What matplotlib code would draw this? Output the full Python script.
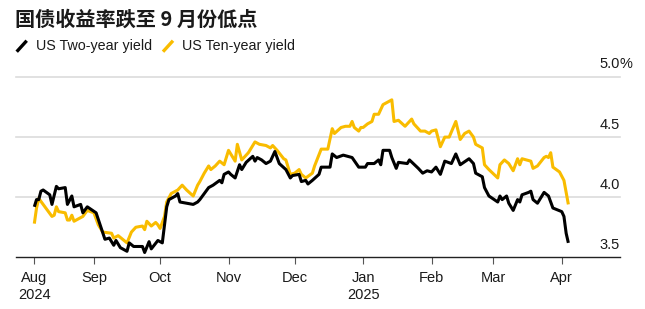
import matplotlib
matplotlib.use("Agg")
import matplotlib.pyplot as plt
import matplotlib.transforms as mtransforms
from matplotlib.lines import Line2D
import pandas as pd

# ── data ──
TITLE = "国债收益率跌至 9 月份低点"
SERIES_LABELS = ["US Two-year yield", "US Ten-year yield"]

two_dates = [
    "2024-08-05", "2024-08-06", "2024-08-07", "2024-08-08", "2024-08-09", "2024-08-12",
    "2024-08-13", "2024-08-15", "2024-08-16", "2024-08-19", "2024-08-20", "2024-08-22",
    "2024-08-23", "2024-08-26", "2024-08-27", "2024-08-29", "2024-09-02", "2024-09-04",
    "2024-09-06", "2024-09-08", "2024-09-10", "2024-09-11", "2024-09-13", "2024-09-16",
    "2024-09-17", "2024-09-19", "2024-09-23", "2024-09-24", "2024-09-26", "2024-09-27",
    "2024-09-30", "2024-10-02", "2024-10-04", "2024-10-05", "2024-10-08", "2024-10-09",
    "2024-10-10", "2024-10-16", "2024-10-18", "2024-10-19", "2024-10-21", "2024-10-23",
    "2024-10-25", "2024-10-28", "2024-10-29", "2024-10-30", "2024-11-01", "2024-11-02",
    "2024-11-04", "2024-11-06", "2024-11-07", "2024-11-09", "2024-11-12", "2024-11-13",
    "2024-11-14", "2024-11-16", "2024-11-18", "2024-11-20", "2024-11-22", "2024-11-24",
    "2024-11-27", "2024-11-29", "2024-11-30", "2024-12-03", "2024-12-04", "2024-12-06",
    "2024-12-07", "2024-12-09", "2024-12-12", "2024-12-13", "2024-12-17", "2024-12-18",
    "2024-12-20", "2024-12-23", "2024-12-27", "2024-12-30", "2025-01-02", "2025-01-03",
    "2025-01-06", "2025-01-08", "2025-01-09", "2025-01-10", "2025-01-13", "2025-01-14",
    "2025-01-16", "2025-01-17", "2025-01-21", "2025-01-22", "2025-01-26", "2025-01-28",
    "2025-01-30", "2025-02-01", "2025-02-03", "2025-02-05", "2025-02-07", "2025-02-10",
    "2025-02-12", "2025-02-14", "2025-02-18", "2025-02-20", "2025-02-21", "2025-02-24",
    "2025-02-25", "2025-02-27", "2025-03-03", "2025-03-04", "2025-03-05", "2025-03-07",
    "2025-03-08", "2025-03-10", "2025-03-12", "2025-03-13", "2025-03-14", "2025-03-17",
    "2025-03-18", "2025-03-19", "2025-03-21", "2025-03-24", "2025-03-26", "2025-03-28",
    "2025-04-01", "2025-04-02", "2025-04-03", "2025-04-04",
]
two_vals = [
    3.92, 3.98, 3.98, 4.05, 4.06, 4.02,
    3.94, 4.09, 4.07, 4.08, 3.94, 4.01,
    3.92, 3.94, 3.87, 3.92, 3.87, 3.76,
    3.65, 3.66, 3.60, 3.64, 3.58, 3.55,
    3.62, 3.59, 3.59, 3.54, 3.63, 3.57,
    3.64, 3.62, 3.92, 3.98, 4.01, 4.03,
    3.96, 3.94, 3.96, 3.98, 4.03, 4.08,
    4.10, 4.14, 4.12, 4.19, 4.21, 4.19,
    4.16, 4.27, 4.23, 4.29, 4.34, 4.30,
    4.33, 4.31, 4.28, 4.30, 4.38, 4.28,
    4.23, 4.16, 4.18, 4.19, 4.13, 4.14,
    4.11, 4.14, 4.19, 4.25, 4.25, 4.36,
    4.33, 4.35, 4.33, 4.25, 4.25, 4.28,
    4.28, 4.31, 4.27, 4.39, 4.39, 4.33,
    4.24, 4.29, 4.28, 4.31, 4.24, 4.20,
    4.22, 4.21, 4.25, 4.19, 4.30, 4.28,
    4.36, 4.27, 4.32, 4.28, 4.20, 4.17,
    4.08, 4.01, 3.96, 4.01, 3.98, 4.01,
    3.95, 3.89, 3.98, 3.96, 4.02, 4.04,
    4.05, 3.98, 3.95, 4.04, 4.01, 3.91,
    3.88, 3.84, 3.70, 3.62,
]

ten_dates = [
    "2024-08-05", "2024-08-06", "2024-08-07", "2024-08-09", "2024-08-11", "2024-08-13",
    "2024-08-14", "2024-08-15", "2024-08-16", "2024-08-19", "2024-08-20", "2024-08-21",
    "2024-08-22", "2024-08-23", "2024-08-27", "2024-08-29", "2024-09-01", "2024-09-03",
    "2024-09-05", "2024-09-09", "2024-09-10", "2024-09-12", "2024-09-16", "2024-09-18",
    "2024-09-20", "2024-09-23", "2024-09-24", "2024-09-25", "2024-09-27", "2024-09-29",
    "2024-09-30", "2024-10-01", "2024-10-03", "2024-10-04", "2024-10-06", "2024-10-09",
    "2024-10-11", "2024-10-13", "2024-10-16", "2024-10-18", "2024-10-19", "2024-10-21",
    "2024-10-23", "2024-10-24", "2024-10-26", "2024-10-28", "2024-10-30", "2024-11-01",
    "2024-11-04", "2024-11-05", "2024-11-07", "2024-11-10", "2024-11-13", "2024-11-15",
    "2024-11-18", "2024-11-20", "2024-11-21", "2024-11-23", "2024-11-26", "2024-11-27",
    "2024-11-29", "2024-12-01", "2024-12-03", "2024-12-04", "2024-12-06", "2024-12-09",
    "2024-12-10", "2024-12-13", "2024-12-16", "2024-12-18", "2024-12-19", "2024-12-22",
    "2024-12-24", "2024-12-26", "2024-12-27", "2024-12-28", "2024-12-30", "2024-12-31",
    "2025-01-01", "2025-01-03", "2025-01-05", "2025-01-06", "2025-01-08", "2025-01-10",
    "2025-01-14", "2025-01-15", "2025-01-17", "2025-01-20", "2025-01-23", "2025-01-24",
    "2025-01-27", "2025-01-29", "2025-01-31", "2025-02-01", "2025-02-03", "2025-02-05",
    "2025-02-07", "2025-02-09", "2025-02-12", "2025-02-14", "2025-02-16", "2025-02-18",
    "2025-02-20", "2025-02-21", "2025-02-24", "2025-02-25", "2025-02-27", "2025-03-03",
    "2025-03-04", "2025-03-06", "2025-03-08", "2025-03-10", "2025-03-12", "2025-03-13",
    "2025-03-14", "2025-03-18", "2025-03-19", "2025-03-21", "2025-03-24", "2025-03-25",
    "2025-03-26", "2025-03-27", "2025-03-28", "2025-03-31", "2025-04-02", "2025-04-04",
]
ten_vals = [
    3.78, 3.91, 3.99, 3.94, 3.89, 3.84,
    3.85, 3.92, 3.88, 3.87, 3.81, 3.81,
    3.85, 3.80, 3.84, 3.89, 3.87, 3.77,
    3.71, 3.70, 3.66, 3.68, 3.62, 3.71,
    3.75, 3.76, 3.73, 3.80, 3.76, 3.79,
    3.77, 3.74, 3.84, 3.96, 4.03, 4.06,
    4.10, 4.06, 4.01, 4.10, 4.13, 4.20,
    4.26, 4.23, 4.26, 4.30, 4.27, 4.39,
    4.30, 4.44, 4.31, 4.37, 4.46, 4.44,
    4.43, 4.41, 4.43, 4.39, 4.32, 4.31,
    4.19, 4.20, 4.23, 4.19, 4.16, 4.20,
    4.26, 4.40, 4.40, 4.57, 4.53, 4.58,
    4.59, 4.59, 4.63, 4.58, 4.55, 4.58,
    4.58, 4.61, 4.63, 4.69, 4.69, 4.77,
    4.81, 4.63, 4.64, 4.59, 4.65, 4.61,
    4.55, 4.55, 4.53, 4.55, 4.56, 4.42,
    4.50, 4.50, 4.63, 4.48, 4.53, 4.55,
    4.50, 4.44, 4.41, 4.27, 4.23, 4.16,
    4.27, 4.31, 4.28, 4.22, 4.32, 4.27,
    4.32, 4.30, 4.24, 4.26, 4.33, 4.34,
    4.33, 4.37, 4.25, 4.21, 4.14, 3.94,
]

tick_dates = ["2024-08-05", "2024-09-01", "2024-10-01", "2024-11-01", "2024-12-01",
              "2025-01-01", "2025-02-01", "2025-03-01", "2025-04-01"]
tick_labels = ["Aug\n2024", "Sep", "Oct", "Nov", "Dec", "Jan\n2025", "Feb", "Mar", "Apr"]
y_ticks = [3.5, 4.0, 4.5, 5.0]
y_labels = ["3.5", "4.0", "4.5", "5.0"]

# ── style ──
BLACK = "#000000"
YELLOW = "#F9BC00"
TEXT = "#1a1a1a"
GRID = "#dcdcdc"
FONT = "Liberation Sans"

W, H = 645, 309
fig = plt.figure(figsize=(W / 100, H / 100), dpi=100)
ax = fig.add_axes([16 / W, 1 - 257.3 / H, (620 - 16) / W, (257.3 - 77) / H])

ax.plot(pd.to_datetime(ten_dates), ten_vals, color=YELLOW, lw=2.2,
        solid_joinstyle="round", solid_capstyle="butt", zorder=3)
ax.plot(pd.to_datetime(two_dates), two_vals, color=BLACK, lw=2.2,
        solid_joinstyle="round", solid_capstyle="butt", zorder=4)

start = pd.Timestamp("2024-08-05")
ax.set_xlim(start - pd.Timedelta(days=8.3), start + pd.Timedelta(days=265.4))
ax.set_ylim(3.5, 5.0)

for s in ["top", "left", "right"]:
    ax.spines[s].set_visible(False)
ax.spines["bottom"].set_color("#222222")
ax.spines["bottom"].set_linewidth(1.0)

for yv in y_ticks[1:]:
    ax.axhline(yv, color=GRID, lw=1.2, zorder=1, clip_on=False)

ax.set_yticks([])
ax.set_xticks(pd.to_datetime(tick_dates))
ax.set_xticklabels(tick_labels, fontfamily=FONT, fontsize=10.5, color=TEXT,
                   linespacing=1.3)
ax.tick_params(axis="x", length=5, width=0.8, color="#555555", pad=5)

# y labels above the gridlines, right aligned at the axis end
offset = mtransforms.offset_copy(ax.get_yaxis_transform(), fig=fig, x=0, y=4, units="points")
for yv, lab in zip(y_ticks, y_labels):
    ax.text(1.0, yv, lab, transform=offset, ha="right", va="bottom",
            fontfamily=FONT, fontsize=10.5, color=TEXT, clip_on=False)
ax.text(1.0, y_ticks[-1], "%", transform=offset, ha="left", va="bottom",
        fontfamily=FONT, fontsize=10.5, color=TEXT, clip_on=False)

# title
fig.text(15 / W, 1 - 19.5 / H, TITLE, ha="left", va="center",
         fontfamily=["Noto Sans CJK SC", "DejaVu Sans"], fontweight="bold",
         fontsize=14.5, color=TEXT)

# legend with slanted strokes
for x0, col, lab in [(16.7, BLACK, SERIES_LABELS[0]), (163, YELLOW, SERIES_LABELS[1])]:
    fig.add_artist(Line2D([x0 / W, (x0 + 10) / W], [1 - 51.7 / H, 1 - 40.7 / H],
                          color=col, lw=2.4, solid_capstyle="butt"))
    fig.text((x0 + 19) / W, 1 - 46 / H, lab, ha="left", va="center",
             fontfamily=FONT, fontsize=10.3, color=TEXT)

fig.savefig("out.png", dpi=100)
